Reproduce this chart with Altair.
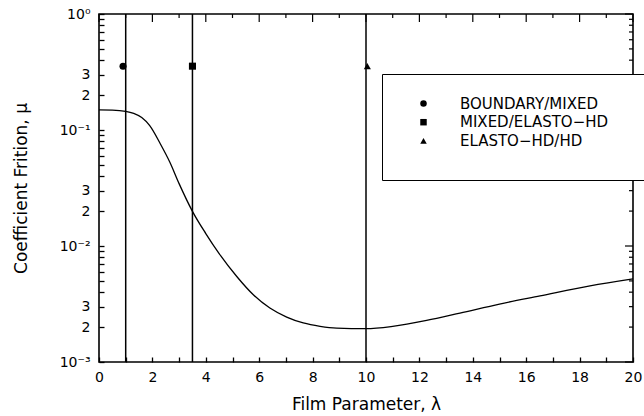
import altair as alt
import pandas as pd

# ---- data ----
lam = [0, 0.5, 1.0, 1.3, 1.6, 1.9, 2.3, 2.65, 3.0, 3.5, 4.0, 4.5, 5.16, 5.78,
       6.4, 7.03, 7.65, 8.28, 8.9, 10.0, 11.0, 12.27, 13.52, 15.0, 16.52,
       18.39, 20.0]
mu = [0.149, 0.1485, 0.145, 0.139, 0.128, 0.109, 0.0758, 0.053, 0.0345,
      0.0199, 0.0128, 0.0086, 0.00546, 0.0038, 0.00292, 0.00244, 0.00217,
      0.00203, 0.00196, 0.00194, 0.00203, 0.00228, 0.00264, 0.00316,
      0.00372, 0.00454, 0.00521]

regimes = ["BOUNDARY/MIXED", "MIXED/ELASTO\u2212HD", "ELASTO\u2212HD/HD"]
regime_lam = [0.9, 3.5, 10.05]
regime_mu = [0.355, 0.355, 0.355]
regime_shapes = ["circle", "square", "triangle-up"]
boundary_lam = [1.0, 3.5, 10.0]

x_domain = [0, 20]
y_domain = [0.001, 1.0]
xtick_all = [0, 1, 2, 3, 4, 5, 6, 7, 8, 9, 10, 11, 12, 13, 14, 15, 16, 17,
             18, 19, 20]
xtick_major = [0, 2, 4, 6, 8, 10, 12, 14, 16, 18, 20]
xtick_minor = [1, 3, 5, 7, 9, 11, 13, 15, 17, 19]
ytick_major = [0.001, 0.01, 0.1, 1.0]
ytick_minor = [0.002, 0.003, 0.004, 0.005, 0.006, 0.007, 0.008, 0.009,
               0.02, 0.03, 0.04, 0.05, 0.06, 0.07, 0.08, 0.09,
               0.2, 0.3, 0.4, 0.5, 0.6, 0.7, 0.8, 0.9]
ytick_all = sorted(ytick_major + ytick_minor)
ylabel_values = [0.001, 0.002, 0.003, 0.01, 0.02, 0.03, 0.1, 0.2, 0.3, 1.0]
ylabel_texts = ["10\u207b\u00b3", "2", "3", "10\u207b\u00b2", "2", "3",
                "10\u207b\u00b9", "2", "3", "10\u2070"]

FONT = "DejaVu Sans"
W, H = 534, 348
MAJOR, MINOR = 8, 4
INWARD = 5

curve_df = pd.DataFrame({"lam": lam, "mu": mu})
marker_df = pd.DataFrame({"lam": regime_lam, "mu": regime_mu, "regime": regimes})
line_df = pd.DataFrame({"lam": boundary_lam})

xscale = alt.Scale(domain=x_domain, nice=False, zero=False)
yscale = alt.Scale(type="log", domain=y_domain, nice=False)

ylab_expr = ""
for v, t in zip(ylabel_values, ylabel_texts):
    ylab_expr += f"abs(datum.value - {v}) < {v * 0.001} ? '{t}' : "
ylab_expr += "''"
xlab_expr = "abs(datum.value % 2) < 0.001 ? datum.label : ''"

X_AXIS = dict(values=xtick_all, labelExpr=xlab_expr, ticks=True,
              tickSize={"expr": str(-INWARD)}, tickColor="black", tickWidth=1.3,
              tickOpacity=1, zindex=1,
              domain=False, grid=False, labelFont=FONT, labelFontSize=14,
              labelColor="black", labelPadding=8 + INWARD, labelFlush=False,
              labelOverlap=False,
              title="Film Parameter, \u03bb", titleFont=FONT, titleFontSize=17,
              titleFontWeight="normal", titleColor="black", titlePadding=12)
Y_AXIS = dict(values=ytick_all, labelExpr=ylab_expr, ticks=True,
              tickSize={"expr": str(-INWARD)}, tickColor="black", tickWidth=1.3,
              tickOpacity=1, zindex=1,
              domain=False, grid=False, labelFont=FONT, labelFontSize=14,
              labelColor="black", labelPadding=9 + INWARD, labelFlush=False,
              labelOverlap=False,
              title="Coefficient Frition, \u03bc", titleFont=FONT, titleFontSize=17,
              titleFontWeight="normal", titleColor="black", titlePadding=29)


def X(field):
    return alt.X(field, scale=xscale, axis=alt.Axis(**X_AXIS))


def Y(field):
    return alt.Y(field, scale=yscale, axis=alt.Axis(**Y_AXIS))


curve = alt.Chart(curve_df).mark_line(color="black", strokeWidth=1.3,
                                      interpolate="monotone").encode(
    x=X("lam:Q"), y=Y("mu:Q"),
)

rules = alt.Chart(line_df).mark_rule(color="black", strokeWidth=1.5).encode(
    x=X("lam:Q"),
)

legend = alt.Legend(
    orient="none", legendX=283, legendY=60,
    strokeColor="black", fillColor="white", padding=22,
    symbolOffset=12, labelOffset=29, rowPadding=2.7,
    labelFont=FONT, labelFontSize=15, labelColor="black", labelLimit=400,
    symbolSize=42, symbolFillColor="black", symbolStrokeColor="black",
    symbolStrokeWidth=0,
    title=[" ", " ", " ", " "], titleOrient="right", titleFontSize=14,
    titleLineHeight=16, titlePadding=45, titleAnchor="start",
)

points = alt.Chart(marker_df).mark_point(filled=True, color="black", size=50,
                                         opacity=1).encode(
    x=X("lam:Q"), y=Y("mu:Q"),
    shape=alt.Shape("regime:N", sort=regimes,
                    scale=alt.Scale(domain=regimes, range=regime_shapes),
                    legend=legend),
)


# inward ticks on the top and right frame, anchored through the same scales
def xticks(values, edge, length, sign):
    df = pd.DataFrame({"lam": values, "mu": [edge] * len(values)})
    return alt.Chart(df).mark_rule(color="black", strokeWidth=1.2,
                                   y2Offset=sign * length).encode(
        x=X("lam:Q"), y=Y("mu:Q"), y2=alt.Y2("mu:Q"),
    )


def yticks(values, edge, length, sign):
    df = pd.DataFrame({"mu": values, "lam": [edge] * len(values)})
    return alt.Chart(df).mark_rule(color="black", strokeWidth=1.2,
                                   x2Offset=sign * length).encode(
        y=Y("mu:Q"), x=X("lam:Q"), x2=alt.X2("lam:Q"),
    )


tick_layers = [
    xticks(xtick_major, y_domain[1], MAJOR, 1),
    xticks(xtick_minor, y_domain[1], MINOR, 1),
    yticks(ytick_major, x_domain[1], MAJOR, -1),
    yticks(ytick_minor, x_domain[1], MINOR, -1),
]

chart = alt.layer(curve, rules, *tick_layers, points).properties(
    width=W, height=H,
    autosize=alt.AutoSizeParams(type="none"),
    padding={"left": 99, "top": 14, "right": 11, "bottom": 54},
    background="white",
).configure_view(
    stroke="black", strokeWidth=1.6
)

chart.save("out.html", embed_options={"renderer": "svg", "actions": False})
